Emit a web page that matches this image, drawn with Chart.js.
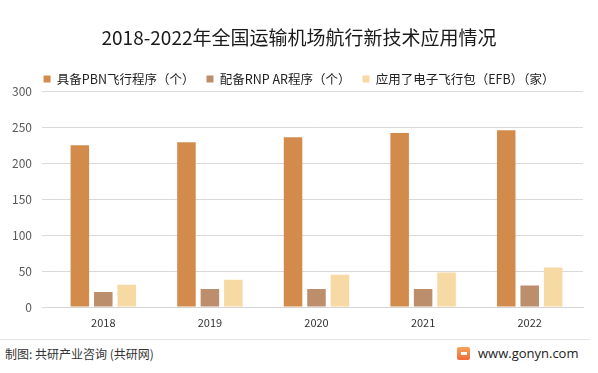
<!DOCTYPE html>
<html>
<head>
<meta charset="utf-8">
<script src="https://cdn.jsdelivr.net/npm/chart.js@4"></script>
<style>
  html,body{margin:0;padding:0;background:#fff;}
  #wrap{position:relative;width:598px;height:373px;overflow:hidden;font-family:"Noto Sans CJK SC","Noto Sans",sans-serif;}
  #box{position:absolute;left:0;top:0;width:598px;height:336px;}
  #rule{position:absolute;left:0;top:339px;width:590px;height:1px;background:#e3e3e3;}
  #src{position:absolute;left:5px;top:345px;font-size:12px;color:#333;}
  #site{position:absolute;left:478px;top:344px;font-size:13px;color:#222;font-family:"Open Sans","Noto Sans",sans-serif;}
  #logo{position:absolute;left:457px;top:347px;width:13px;height:13px;border-radius:2px;background:linear-gradient(#f7a45a,#ef6a3a);}
  #logo:after{content:"";position:absolute;left:4px;top:5px;width:6px;height:3px;background:#fff;}
</style>
</head>
<body>
<div id="wrap">
  <div id="box"><canvas id="c"></canvas></div>
  <div id="rule"></div>
  <div id="src">制图: 共研产业咨询 (共研网)</div>
  <div id="logo"></div>
  <div id="site">www.gonyn.com</div>
</div>
<script>
// 2018-2022 全国运输机场航行新技术应用情况
const YEARS = ['2018','2019','2020','2021','2022'];
const PBN = [225, 229, 236, 242, 246];   // 具备PBN飞行程序（个）
const RNP = [21, 25, 25, 25, 30];        // 配备RNP AR程序（个）
const EFB = [31, 38, 45, 48, 55];        // 应用了电子飞行包（EFB）（家）
const SERIES_NAMES = ['具备PBN飞行程序（个）','配备RNP AR程序（个）','应用了电子飞行包（EFB）（家）'];
const COLORS = ['#d38b4c','#bc8e6c','#f7d9a4'];
const Y_TICKS = [0, 50, 100, 150, 200, 250, 300];

const CJK = '"Noto Sans CJK SC","Noto Sans",sans-serif';
const ds = [PBN, RNP, EFB].map((v,i)=>({label:SERIES_NAMES[i],data:v,backgroundColor:COLORS[i],
  categoryPercentage:0.66,barPercentage:0.79}));

// nudge the legend a few px down without moving the plot area
const legendNudge = {id:'legendNudge', afterLayout(chart){ if(chart.legend){chart.legend.top+=4;chart.legend.bottom+=4;} }};

new Chart(document.getElementById('c'),{
  type:'bar',
  data:{labels:YEARS,datasets:ds},
  plugins:[legendNudge],
  options:{
    responsive:true,maintainAspectRatio:false,animation:false,
    layout:{padding:0},
    plugins:{
      title:{display:true,text:'2018-2022年全国运输机场航行新技术应用情况',color:'#1a1a1a',
        font:{family:CJK,size:19,weight:'normal'},padding:{top:26,bottom:8}},
      legend:{position:'top',labels:{boxWidth:7,boxHeight:7,color:'#222',padding:12,
        font:{family:CJK,size:12.5}}},
      tooltip:{enabled:false}
    },
    scales:{
      x:{grid:{display:false},border:{color:'#d4d4d4'},
        ticks:{color:'#333',font:{family:CJK,size:11},padding:1},
        afterFit:s=>{s.height=29;}},
      y:{min:0,max:300,afterBuildTicks:s=>{s.ticks=Y_TICKS.map(v=>({value:v}));},
        grid:{color:'#d9d9d9'},border:{display:false},
        ticks:{color:'#595959',font:{family:CJK,size:12},padding:10},
        afterFit:s=>{s.width=50;}},
      // empty right margin so the legend centres on the whole page
      pad:{position:'right',display:true,grid:{drawOnChartArea:false,display:false},border:{display:false},
        ticks:{display:false},afterFit:s=>{s.width=15;}}
    }
  }
});
</script>
</body>
</html>
